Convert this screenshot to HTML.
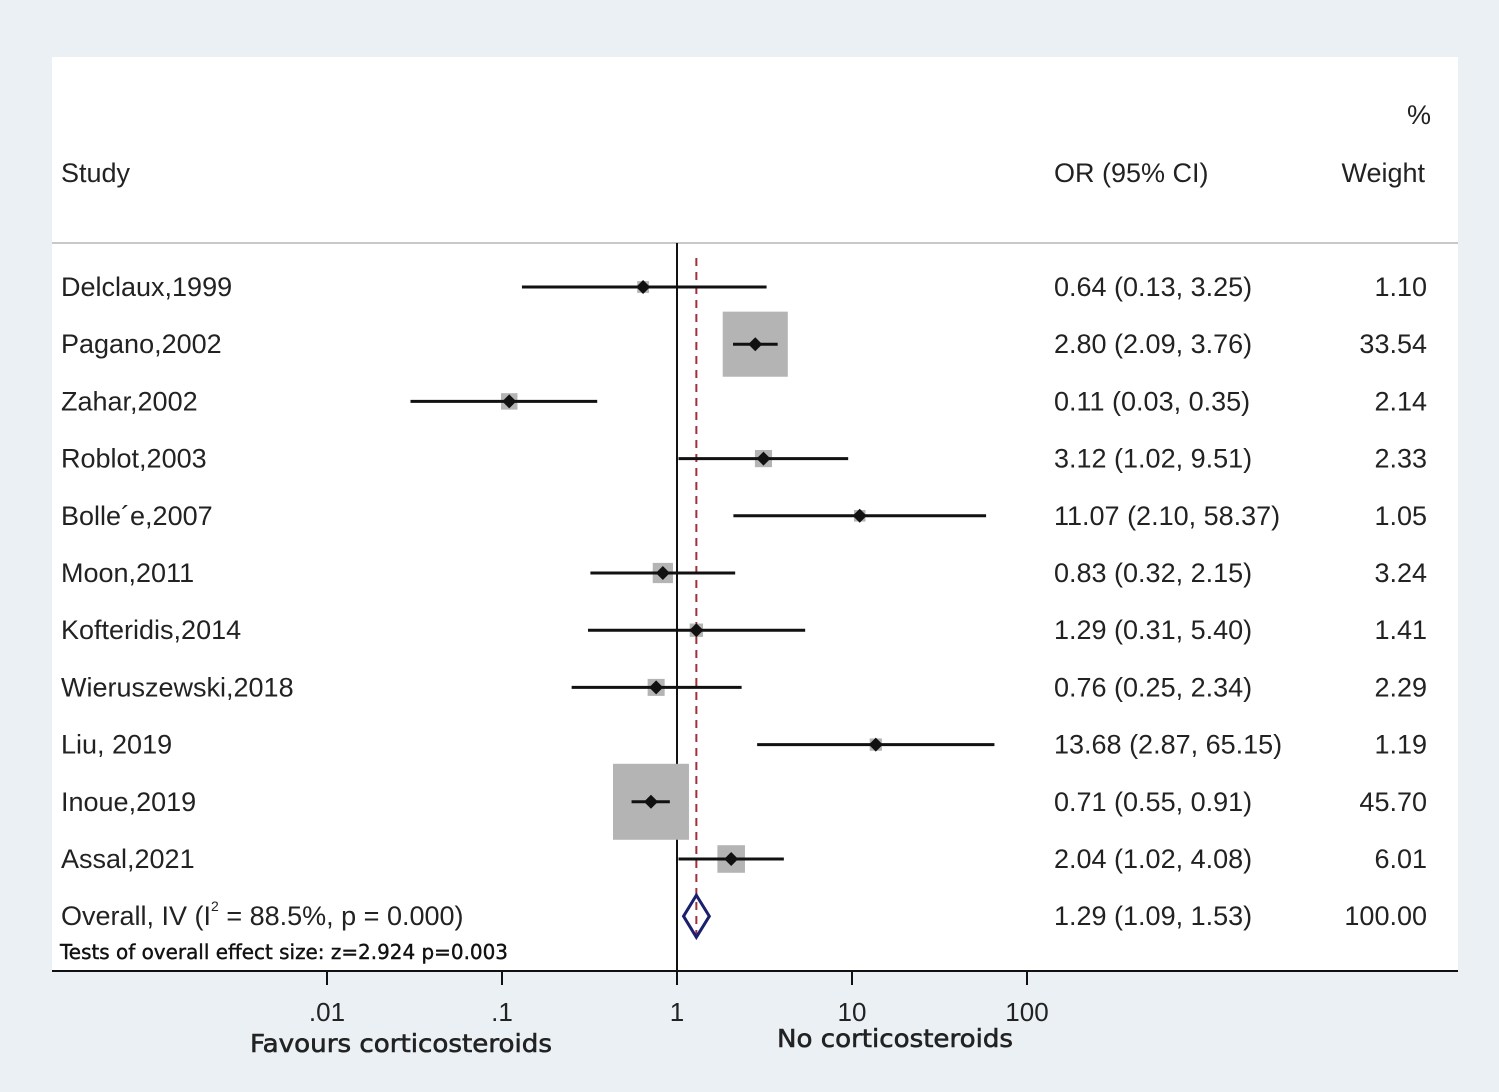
<!DOCTYPE html>
<html><head><meta charset="utf-8"><style>
body{margin:0;background:#eaf0f3;}
svg{display:block;font-family:"Liberation Sans",sans-serif;}
</style></head><body>
<svg id="c" width="1499" height="1092" xmlns="http://www.w3.org/2000/svg">
<rect x="0" y="0" width="1499" height="1092" fill="#eaf0f3"/>
<rect x="52" y="57" width="1406" height="914" fill="#ffffff"/>
<line x1="52" y1="243" x2="1458" y2="243" stroke="#c8c8c8" stroke-width="2"/>
<text x="1419" y="124" font-size="27" text-anchor="middle" fill="#222">%</text>
<text x="61" y="182" font-size="27" fill="#222">Study</text>
<text x="1054" y="182" font-size="27" fill="#222">OR (95% CI)</text>
<text x="1425" y="182" font-size="27" text-anchor="end" fill="#222">Weight</text>
<g id="rows"></g>
</svg>
<script>
const studies=["Delclaux,1999","Pagano,2002","Zahar,2002","Roblot,2003","Bolle\u00b4e,2007","Moon,2011","Kofteridis,2014","Wieruszewski,2018","Liu, 2019","Inoue,2019","Assal,2021"];
const orVals=[0.64,2.80,0.11,3.12,11.07,0.83,1.29,0.76,13.68,0.71,2.04];
const lowVals=[0.13,2.09,0.03,1.02,2.10,0.32,0.31,0.25,2.87,0.55,1.02];
const highVals=[3.25,3.76,0.35,9.51,58.37,2.15,5.40,2.34,65.15,0.91,4.08];
const weights=[1.10,33.54,2.14,2.33,1.05,3.24,1.41,2.29,1.19,45.70,6.01];
const overall=[1.29,1.09,1.53];
const ticks=[0.01,0.1,1,10,100];
const tickLabels=[".01",".1","1","10","100"];

const NS="http://www.w3.org/2000/svg";
const g=document.getElementById('rows');
const xs=v=>677+175*Math.log10(v);
const rowY=i=>287+57.2*i;
const f2=v=>v.toFixed(2);
function mk(tag,attrs,parent){const e=document.createElementNS(NS,tag);for(const k in attrs)e.setAttribute(k,attrs[k]);(parent||g).appendChild(e);return e;}

let nl=mk('line',{x1:xs(1),y1:243,x2:xs(1),y2:971,stroke:'#111','stroke-width':2});


let rl=mk('line',{x1:xs(overall[0]),y1:258,x2:xs(overall[0]),y2:942,stroke:'#a0303a','stroke-width':2,'stroke-dasharray':'8,6'});



studies.forEach((s,i)=>{
  const y=rowY(i);
  const side=11.24*Math.sqrt(weights[i]);
  const b=mk('rect',{x:xs(orVals[i])-side/2,y:y-side/2,width:side,height:side,fill:'#b4b4b4'});
  
  
  const l=mk('line',{x1:xs(lowVals[i]),y1:y,x2:xs(highVals[i]),y2:y,stroke:'#111','stroke-width':3});
  
  
  const cx=xs(orVals[i]);
  const d=mk('polygon',{points:`${cx-7},${y} ${cx},${y-7} ${cx+7},${y} ${cx},${y+7}`,fill:'#111'});
  
  
  const t1=mk('text',{x:61,y:y+9,'font-size':27,fill:'#222'});t1.textContent=s;
  
  
  const t2=mk('text',{x:1054,y:y+9,'font-size':27,fill:'#222'});t2.textContent=`${f2(orVals[i])} (${f2(lowVals[i])}, ${f2(highVals[i])})`;
  
  
  const t3=mk('text',{x:1427,y:y+9,'font-size':27,fill:'#222','text-anchor':'end'});t3.textContent=f2(weights[i]);
  
  
});
const oy=rowY(11);
const od=mk('polygon',{points:`${xs(overall[1])},${oy} ${xs(overall[0])},${oy-21} ${xs(overall[2])},${oy} ${xs(overall[0])},${oy+21}`,fill:'none',stroke:'#1a1f6e','stroke-width':3});


const ot=mk('text',{x:61,y:oy+9,'font-size':27,fill:'#222'});
ot.innerHTML='Overall, IV (I<tspan font-size="14" dy="-14">2</tspan><tspan dy="14"> = 88.5%, p = 0.000)</tspan>';


const oo=mk('text',{x:1054,y:oy+9,'font-size':27,fill:'#222'});oo.textContent=`${f2(overall[0])} (${f2(overall[1])}, ${f2(overall[2])})`;


const ow=mk('text',{x:1427,y:oy+9,'font-size':27,fill:'#222','text-anchor':'end'});ow.textContent='100.00';


const te=mk('text',{x:60,y:959,'font-size':20,fill:'#111',stroke:'#111','stroke-width':0.4,'font-family':'"DejaVu Sans",sans-serif','textLength':448,'lengthAdjust':'spacingAndGlyphs'});te.textContent='Tests of overall effect size: z=2.924 p=0.003';


const ax=mk('line',{x1:52,y1:971,x2:1458,y2:971,stroke:'#111','stroke-width':2});


ticks.forEach((v,i)=>{
  const tk=mk('line',{x1:xs(v),y1:971,x2:xs(v),y2:985,stroke:'#111','stroke-width':2});
  
  
  const tl=mk('text',{x:xs(v),y:1021,'font-size':26,fill:'#222','text-anchor':'middle'});tl.textContent=tickLabels[i];
  
  
});
const fa=mk('text',{x:401,y:1052,'font-size':25,fill:'#222',stroke:'#222','stroke-width':0.6,'text-anchor':'middle','font-family':'"DejaVu Sans",sans-serif','textLength':302,'lengthAdjust':'spacingAndGlyphs'});fa.textContent='Favours corticosteroids';


const nc=mk('text',{x:895,y:1047,'font-size':25,fill:'#222',stroke:'#222','stroke-width':0.6,'text-anchor':'middle','font-family':'"DejaVu Sans",sans-serif','textLength':236,'lengthAdjust':'spacingAndGlyphs'});nc.textContent='No corticosteroids';


</script>
</body></html>
